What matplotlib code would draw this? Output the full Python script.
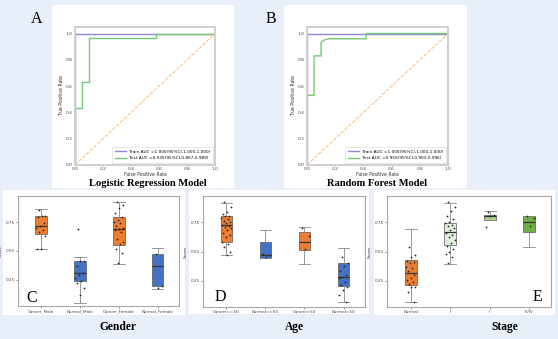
import numpy as np
import matplotlib
matplotlib.use("Agg")
import matplotlib.pyplot as plt
from matplotlib.patches import Rectangle

W, H = 558, 339

# ROC curves
train_fpr = [0.0, 0.0, 1.0]
train_tpr = [0.0, 1.0, 1.0]
lr_test_fpr = [0.0, 0.0, 0.05, 0.05, 0.10, 0.10, 0.58, 0.58, 1.0]
lr_test_tpr = [0.0, 0.43, 0.43, 0.63, 0.63, 0.97, 0.97, 1.0, 1.0]
rf_test_fpr = [0.0, 0.0, 0.05, 0.05, 0.10, 0.10, 0.12, 0.15, 0.42, 0.42, 1.0]
rf_test_tpr = [0.0, 0.53, 0.53, 0.83, 0.83, 0.93, 0.95, 0.96, 0.96, 1.0, 1.0]
lr_labels = ["Train AUC =1.000(95%CI,1.000-1.000)", "Test AUC =0.935(95%CI,0.867-0.989)"]
rf_labels = ["Train AUC =1.000(95%CI,1.000-1.000)", "Test AUC =0.955(95%CI,0.903-0.996)"]

# score boxplots: quartiles, whiskers and the individual samples
gender_cats = ["Cancer_Male", "Normal_Male", "Cancer_Female", "Normal_Female"]
gender_q1 = [0.65, 0.24, 0.55, 0.20]
gender_med = [0.72, 0.31, 0.69, 0.37]
gender_q3 = [0.80, 0.41, 0.79, 0.47]
gender_lo = [0.52, 0.05, 0.39, 0.17]
gender_hi = [0.86, 0.45, 0.92, 0.53]
gender_pts = [
    [0.85, 0.80, 0.80, 0.79, 0.74, 0.72, 0.70, 0.68, 0.66, 0.63, 0.52, 0.52],
    [0.69, 0.41, 0.41, 0.37, 0.31, 0.29, 0.27, 0.24, 0.22, 0.18, 0.12],
    [0.92, 0.90, 0.87, 0.83, 0.79, 0.77, 0.75, 0.74, 0.72, 0.70, 0.69, 0.68,
     0.66, 0.60, 0.58, 0.56, 0.52, 0.48, 0.40],
    [0.47, 0.20, 0.18],
]

age_cats = ["Cancer<=50", "Normal<=50", "Cancer>50", "Normal>50"]
age_q1 = [0.58, 0.444, 0.516, 0.207]
age_med = [0.727, 0.473, 0.584, 0.284]
age_q3 = [0.80, 0.579, 0.664, 0.399]
age_lo = [0.47, 0.444, 0.393, 0.064]
age_hi = [0.916, 0.687, 0.713, 0.527]
age_pts = [
    [0.92, 0.88, 0.84, 0.82, 0.80, 0.80, 0.79, 0.78, 0.76, 0.75, 0.74, 0.73,
     0.72, 0.71, 0.70, 0.68, 0.66, 0.64, 0.62, 0.58, 0.56, 0.54, 0.50, 0.47],
    [0.48, 0.47, 0.45],
    [0.70, 0.63, 0.52],
    [0.45, 0.40, 0.38, 0.33, 0.30, 0.28, 0.27, 0.24, 0.21, 0.20, 0.17, 0.13, 0.07],
]

stage_cats = ["Normal", "I", "II", "III/IV"]
stage_q1 = [0.217, 0.556, 0.77, 0.665]
stage_med = [0.32, 0.667, 0.80, 0.75]
stage_q3 = [0.43, 0.74, 0.815, 0.80]
stage_lo = [0.066, 0.396, 0.77, 0.54]
stage_hi = [0.69, 0.916, 0.85, 0.80]
stage_pts = [
    [0.54, 0.47, 0.45, 0.42, 0.41, 0.40, 0.37, 0.36, 0.33, 0.30, 0.27, 0.26,
     0.24, 0.22, 0.20, 0.20, 0.15, 0.07],
    [0.92, 0.88, 0.85, 0.80, 0.78, 0.75, 0.74, 0.73, 0.72, 0.70, 0.68, 0.66,
     0.64, 0.62, 0.60, 0.57, 0.55, 0.52, 0.50, 0.48, 0.45, 0.40],
    [0.84, 0.81, 0.80, 0.71],
    [0.80, 0.79, 0.72],
]

ORANGE = "#ED7D31"
BLUE = "#4472C4"
gender_colors = [ORANGE, BLUE, ORANGE, BLUE]
age_colors = [ORANGE, BLUE, ORANGE, BLUE]
stage_colors = [ORANGE, "#E2EFDA", "#A9D18E", "#70AD47"]

BG = "#e8eff8"
SERIF = ["Liberation Serif", "DejaVu Serif"]


def rect(x0, y0, x1, y1):
    # pixel box -> figure fraction [left, bottom, width, height]
    return [x0 / W, 1 - y1 / H, (x1 - x0) / W, (y1 - y0) / H]


def panel(fig, x0, y0, x1, y1):
    fig.add_artist(Rectangle((x0 / W, 1 - y1 / H), (x1 - x0) / W, (y1 - y0) / H,
                             transform=fig.transFigure, facecolor="white",
                             edgecolor="none", zorder=-5))


def label(fig, x, y, s, size, bold=False):
    fig.text(x / W, 1 - y / H, s, ha="center", va="center", fontsize=size,
             family=SERIF, fontweight="bold" if bold else "normal")


def draw_roc(ax, test_fpr, test_tpr, labels):
    ax.plot(train_fpr, train_tpr, color="#8a8ad8", lw=1.0, label=labels[0])
    ax.plot(test_fpr, test_tpr, color="#74c874", lw=1.0, label=labels[1])
    ax.plot([0, 1], [0, 1], color="#ffb870", lw=0.7, ls="--")
    ax.set_xlim(0, 1)
    ax.set_ylim(0, 1.05)
    ax.set_xticks(np.arange(0, 1.01, 0.2))
    ax.set_yticks(np.arange(0, 1.01, 0.2))
    ax.tick_params(labelsize=3.2, length=1.0, width=0.4, pad=0.6, colors="#444")
    ax.set_xlabel("False Positive Rate", fontsize=3.3, labelpad=0.3, color="#333")
    ax.set_ylabel("True Positive Rate", fontsize=3.3, labelpad=1, color="#333")
    for sp in ax.spines.values():
        sp.set_color("#cfcfcf")
        sp.set_linewidth(1.4)
    leg = ax.legend(loc="lower right", fontsize=3.1, frameon=True, fancybox=False,
                    handlelength=2.5, borderpad=0.6, labelspacing=0.6)
    leg.get_frame().set_edgecolor("#d5d5d5")
    leg.get_frame().set_linewidth(0.5)


def draw_box(ax, cats, q1, med, q3, lo, hi, pts, colors):
    stats = [dict(q1=a, med=b, q3=c, whislo=d, whishi=e, fliers=[])
             for a, b, c, d, e in zip(q1, med, q3, lo, hi)]
    pos = np.arange(len(cats))
    bp = ax.bxp(stats, positions=pos, widths=0.3, patch_artist=True, showfliers=False,
                boxprops=dict(edgecolor="#555", linewidth=0.5),
                medianprops=dict(color="#333", linewidth=0.9),
                whiskerprops=dict(color="#888", linewidth=0.6),
                capprops=dict(color="#888", linewidth=0.6), capwidths=0.3)
    for patch, c in zip(bp["boxes"], colors):
        patch.set_facecolor(c)
    for i, vals in enumerate(pts):
        n = len(vals)
        offs = ((np.arange(n) * 0.618 + 0.3) % 1 - 0.5) * 0.26
        ax.scatter(i + offs, vals, s=1.6, color="#222", zorder=3, linewidths=0)
    ax.set_xlim(-0.6, 3.55)
    ax.set_ylim(0.025, 0.975)
    ax.set_xticks(pos)
    ax.set_xticklabels(cats)
    ax.set_yticks([0.25, 0.5, 0.75])
    ax.set_yticklabels(["0.25", "0.50", "0.75"])
    ax.tick_params(labelsize=3.0, length=1.2, width=0.4, pad=1, colors="#444")
    ax.set_ylabel("Score", fontsize=3.2, labelpad=2, color="#333")
    for sp in ax.spines.values():
        sp.set_color("#a8a8a8")
        sp.set_linewidth(0.8)


fig = plt.figure(figsize=(W / 100, H / 100), dpi=100)
fig.patch.set_facecolor(BG)

# white backing panels
panel(fig, 52, 5, 234, 188)
panel(fig, 284, 5, 467, 188)
panel(fig, 3, 190, 185, 315)
panel(fig, 189, 190, 369, 314)
panel(fig, 374, 190, 555, 315)

ax_a = fig.add_axes(rect(75, 27, 215, 165))
draw_roc(ax_a, lr_test_fpr, lr_test_tpr, lr_labels)
ax_b = fig.add_axes(rect(307, 27, 448, 165))
draw_roc(ax_b, rf_test_fpr, rf_test_tpr, rf_labels)

ax_c = fig.add_axes(rect(18, 196, 179, 306))
draw_box(ax_c, gender_cats, gender_q1, gender_med, gender_q3, gender_lo, gender_hi,
         gender_pts, gender_colors)
ax_d = fig.add_axes(rect(203, 196, 365, 307))
draw_box(ax_d, age_cats, age_q1, age_med, age_q3, age_lo, age_hi, age_pts, age_colors)
ax_e = fig.add_axes(rect(387, 196, 551, 307))
draw_box(ax_e, stage_cats, stage_q1, stage_med, stage_q3, stage_lo, stage_hi,
         stage_pts, stage_colors)

# panel letters and titles
label(fig, 37, 19, "A", 11.5)
label(fig, 271, 19, "B", 11.5)
label(fig, 32, 298, "C", 11.5)
label(fig, 220, 297, "D", 11.5)
label(fig, 537, 297, "E", 11.5)
label(fig, 148, 183.5, "Logistic Regression Model", 7.6, bold=True)
label(fig, 377, 183.5, "Random Forest Model", 7.6, bold=True)
label(fig, 118, 327, "Gender", 8.3, bold=True)
label(fig, 294, 327, "Age", 8.3, bold=True)
label(fig, 505, 327, "Stage", 8.3, bold=True)

fig.savefig("out.png", dpi=100, facecolor=BG)
